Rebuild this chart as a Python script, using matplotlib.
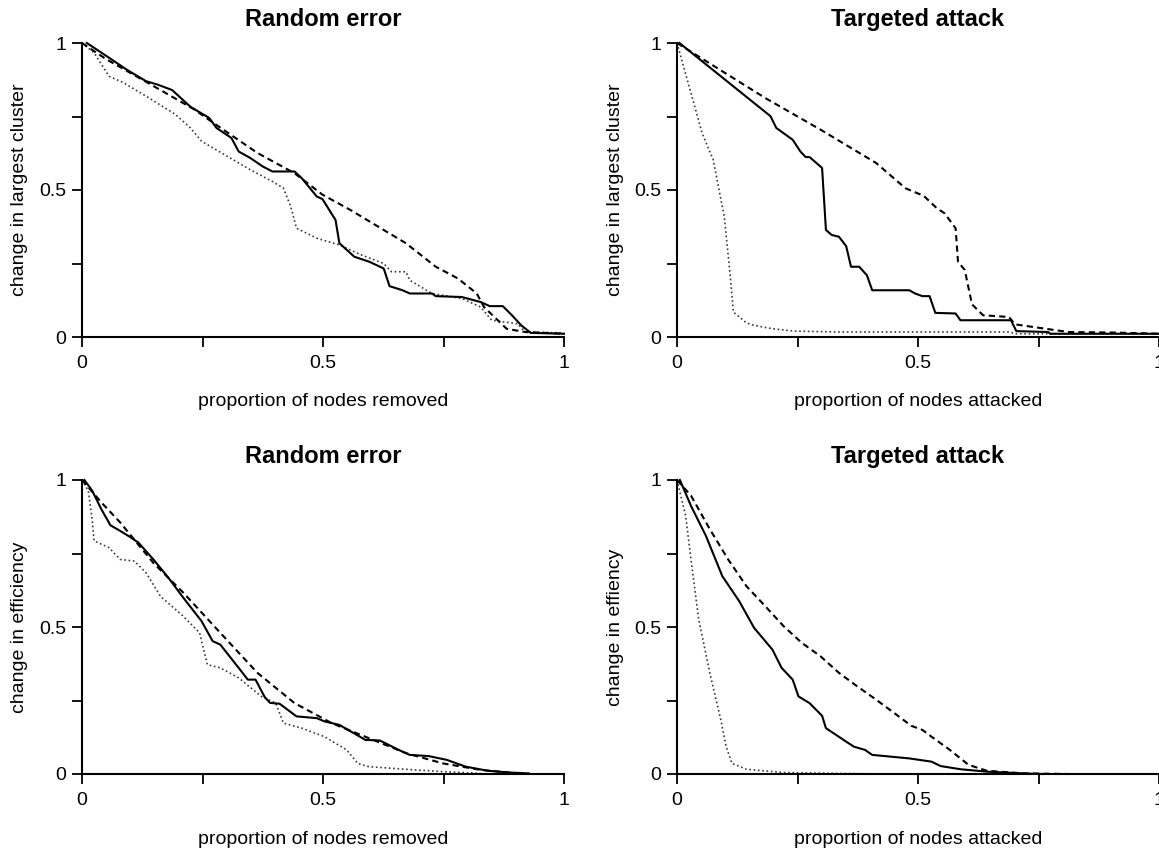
import matplotlib
matplotlib.use("Agg")
import matplotlib.pyplot as plt

plt.rcParams['font.family'] = ['Liberation Sans', 'DejaVu Sans']

# ---------------- data ----------------
# Top-left: Random error, change in largest cluster
tl_solid_x = [0.01, 0.056, 0.094, 0.133, 0.156, 0.187, 0.225, 0.264, 0.279, 0.310, 0.325, 0.349, 0.375, 0.395,
              0.441, 0.456, 0.487, 0.499, 0.526, 0.534, 0.565, 0.596, 0.626, 0.638, 0.665, 0.680, 0.726, 0.734,
              0.788, 0.827, 0.846, 0.873, 0.892, 0.911, 0.931, 1.0]
tl_solid_y = [1.0, 0.95, 0.908, 0.870, 0.859, 0.840, 0.783, 0.745, 0.711, 0.677, 0.631, 0.609, 0.580, 0.563,
              0.563, 0.540, 0.478, 0.469, 0.398, 0.319, 0.273, 0.256, 0.233, 0.173, 0.159, 0.148, 0.148, 0.139,
              0.136, 0.119, 0.105, 0.105, 0.074, 0.040, 0.014, 0.011]
tl_dash_x = [0.0, 0.05, 0.133, 0.233, 0.271, 0.364, 0.441, 0.499, 0.557, 0.626, 0.672, 0.734, 0.780, 0.819,
             0.834, 0.881, 0.919, 1.0]
tl_dash_y = [1.0, 0.945, 0.868, 0.774, 0.730, 0.626, 0.557, 0.484, 0.432, 0.364, 0.319, 0.239, 0.199, 0.148,
             0.102, 0.028, 0.017, 0.011]
tl_dot_x = [0.0, 0.025, 0.056, 0.086, 0.133, 0.194, 0.225, 0.248, 0.302, 0.349, 0.395, 0.418, 0.433, 0.445,
            0.487, 0.534, 0.580, 0.626, 0.642, 0.672, 0.680, 0.726, 0.788, 0.827, 0.850, 0.904, 0.919, 1.0]
tl_dot_y = [1.0, 0.967, 0.887, 0.865, 0.819, 0.757, 0.711, 0.666, 0.614, 0.569, 0.529, 0.506, 0.444, 0.370,
            0.336, 0.313, 0.279, 0.250, 0.222, 0.222, 0.193, 0.148, 0.131, 0.102, 0.057, 0.045, 0.017, 0.014]

# Top-right: Targeted attack, change in largest cluster
tr_solid_x = [0.005, 0.194, 0.206, 0.240, 0.256, 0.267, 0.275, 0.301, 0.309, 0.321, 0.336, 0.351, 0.361, 0.378,
              0.394, 0.405, 0.482, 0.494, 0.509, 0.524, 0.536, 0.578, 0.588, 0.693, 0.704, 0.770, 0.774, 1.0]
tr_solid_y = [1.0, 0.751, 0.711, 0.671, 0.631, 0.612, 0.612, 0.575, 0.364, 0.347, 0.341, 0.309, 0.239, 0.239,
              0.210, 0.159, 0.159, 0.148, 0.139, 0.139, 0.082, 0.080, 0.057, 0.057, 0.020, 0.017, 0.011, 0.011]
tr_dash_x = [0.0, 0.183, 0.298, 0.413, 0.474, 0.512, 0.539, 0.555, 0.578, 0.583, 0.597, 0.612, 0.635, 0.689,
             0.701, 0.812, 0.912, 1.0]
tr_dash_y = [1.0, 0.813, 0.705, 0.592, 0.506, 0.480, 0.438, 0.421, 0.370, 0.256, 0.228, 0.111, 0.074, 0.068,
             0.043, 0.017, 0.015, 0.011]
tr_dot_x = [0.0, 0.029, 0.052, 0.075, 0.098, 0.110, 0.117, 0.144, 0.159, 0.198, 0.244, 0.336, 0.689, 0.704, 1.0]
tr_dot_y = [1.0, 0.83, 0.694, 0.603, 0.410, 0.216, 0.085, 0.048, 0.040, 0.028, 0.020, 0.017, 0.017, 0.011, 0.011]

# Bottom-left: Random error, change in efficiency
bl_solid_x = [0.005, 0.021, 0.040, 0.059, 0.079, 0.098, 0.117, 0.148, 0.179, 0.210, 0.248, 0.271, 0.287, 0.325,
              0.344, 0.360, 0.379, 0.390, 0.410, 0.445, 0.487, 0.503, 0.534, 0.588, 0.618, 0.657, 0.680, 0.719,
              0.757, 0.796, 0.842, 0.888, 0.927]
bl_solid_y = [1.0, 0.964, 0.901, 0.846, 0.827, 0.808, 0.787, 0.730, 0.668, 0.600, 0.520, 0.452, 0.440, 0.361,
              0.321, 0.321, 0.262, 0.242, 0.239, 0.196, 0.190, 0.179, 0.167, 0.116, 0.114, 0.082, 0.065, 0.061,
              0.048, 0.025, 0.011, 0.005, 0.002]
bl_dash_x = [0.0, 0.040, 0.079, 0.148, 0.210, 0.287, 0.364, 0.441, 0.518, 0.595, 0.672, 0.749, 0.827, 0.904]
bl_dash_y = [1.0, 0.924, 0.856, 0.718, 0.617, 0.480, 0.344, 0.241, 0.173, 0.122, 0.071, 0.036, 0.014, 0.002]
bl_dot_x = [0.0, 0.013, 0.021, 0.025, 0.056, 0.079, 0.109, 0.133, 0.163, 0.210, 0.244, 0.260, 0.287, 0.325,
            0.372, 0.402, 0.418, 0.456, 0.503, 0.549, 0.572, 0.595, 0.672, 0.749, 0.827]
bl_dot_y = [1.0, 0.964, 0.867, 0.793, 0.770, 0.730, 0.724, 0.684, 0.604, 0.537, 0.480, 0.372, 0.361, 0.327,
            0.264, 0.241, 0.173, 0.156, 0.127, 0.082, 0.036, 0.025, 0.016, 0.008, 0.002]

# Bottom-right: Targeted attack, change in efficiency
br_solid_x = [0.006, 0.029, 0.060, 0.094, 0.129, 0.160, 0.198, 0.217, 0.240, 0.252, 0.275, 0.301, 0.309, 0.351,
              0.367, 0.390, 0.405, 0.482, 0.528, 0.547, 0.589, 0.643, 0.720, 0.758]
br_solid_y = [1.0, 0.912, 0.810, 0.673, 0.588, 0.497, 0.423, 0.361, 0.321, 0.264, 0.241, 0.198, 0.156, 0.110,
              0.093, 0.082, 0.065, 0.053, 0.042, 0.027, 0.016, 0.008, 0.002, 0.0]
br_dash_x = [0.0, 0.029, 0.068, 0.106, 0.144, 0.183, 0.221, 0.259, 0.298, 0.336, 0.374, 0.413, 0.451, 0.486,
             0.509, 0.528, 0.566, 0.605, 0.643, 0.720, 0.812]
br_dash_y = [1.0, 0.947, 0.833, 0.730, 0.639, 0.571, 0.503, 0.446, 0.400, 0.344, 0.298, 0.253, 0.207, 0.164,
             0.150, 0.127, 0.082, 0.031, 0.011, 0.002, 0.0]
br_dot_x = [0.0, 0.018, 0.029, 0.045, 0.068, 0.091, 0.102, 0.114, 0.144, 0.221, 0.336, 0.451]
br_dot_y = [1.0, 0.878, 0.730, 0.526, 0.344, 0.184, 0.093, 0.036, 0.016, 0.005, 0.002, 0.0]

tick_vals = [0, 0.25, 0.5, 0.75, 1]
tick_labels = ['0', '', '0.5', '', '1']

panels = [
    dict(pos=(82, 337), title='Random error', ylabel='change in largest cluster',
         xlabel='proportion of nodes removed',
         solid=(tl_solid_x, tl_solid_y), dash=(tl_dash_x, tl_dash_y), dot=(tl_dot_x, tl_dot_y)),
    dict(pos=(677, 337), title='Targeted attack', ylabel='change in largest cluster',
         xlabel='proportion of nodes attacked',
         solid=(tr_solid_x, tr_solid_y), dash=(tr_dash_x, tr_dash_y), dot=(tr_dot_x, tr_dot_y)),
    dict(pos=(82, 774), title='Random error', ylabel='change in efficiency',
         xlabel='proportion of nodes removed',
         solid=(bl_solid_x, bl_solid_y), dash=(bl_dash_x, bl_dash_y), dot=(bl_dot_x, bl_dot_y)),
    dict(pos=(677, 774), title='Targeted attack', ylabel='change in effiency',
         xlabel='proportion of nodes attacked',
         solid=(br_solid_x, br_solid_y), dash=(br_dash_x, br_dash_y), dot=(br_dot_x, br_dot_y)),
]

W, H = 1159, 848
fig = plt.figure(figsize=(W / 100, H / 100), dpi=100)
aw, ah = 482, 294

for p in panels:
    x0, yb = p['pos']
    ax = fig.add_axes([x0 / W, (H - yb) / H, aw / W, ah / H])
    ax.plot(*p['dot'], color='#3a3a3a', lw=1.2, dashes=(1, 1.6), clip_on=False)
    ax.plot(*p['dash'], color='black', lw=1.5, dashes=(3, 2), clip_on=False)
    ax.plot(*p['solid'], color='black', lw=1.5, clip_on=False)
    ax.set_xlim(0, 1)
    ax.set_ylim(0, 1)
    for s in ['top', 'right']:
        ax.spines[s].set_visible(False)
    for s in ['left', 'bottom']:
        ax.spines[s].set_linewidth(1.5)
    ax.set_xticks(tick_vals)
    ax.set_xticklabels(tick_labels)
    ax.set_yticks(tick_vals)
    ax.set_yticklabels(tick_labels)
    ax.tick_params(axis='both', direction='out', length=7.2, width=1.3, labelsize=14, colors='black')
    ax.tick_params(axis='x', pad=6)
    ax.tick_params(axis='y', pad=4)
    ax.set_title(p['title'], fontsize=17, fontweight='bold', pad=12)
    ax.set_xlabel(p['xlabel'], fontsize=14, va='center')
    ax.xaxis.set_label_coords(0.5, -65 / ah)
    ax.set_ylabel(p['ylabel'], fontsize=14, va='center')
    ax.yaxis.set_label_coords(-62 / aw, 0.5)

fig.savefig('out.png', dpi=100)
